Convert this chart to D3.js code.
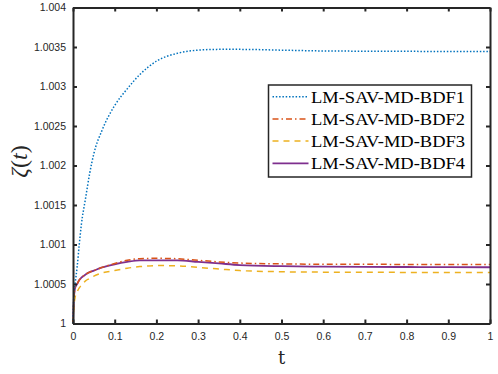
<!DOCTYPE html>
<html>
<head>
<meta charset="utf-8">
<script src="https://cdn.jsdelivr.net/npm/d3@7"></script>
<style>
  body { margin: 0; background: #fff; }
  svg { display: block; }
</style>
</head>
<body>
<div id="chart"></div>
<script>
// sampled time points (shared by all series)
const tValues = [0, 0.002, 0.005, 0.01, 0.015, 0.02, 0.03, 0.04, 0.05, 0.07, 0.1, 0.13, 0.16, 0.2,
  0.25, 0.3, 0.35, 0.4, 0.5, 0.6, 0.7, 0.8, 0.9, 1.0];

const bdf1 = [1.0, 1.00035, 1.0005, 1.00072, 1.001, 1.00125, 1.00158, 1.0019, 1.00215, 1.00245,
  1.00276, 1.00297, 1.00315, 1.00332, 1.00342, 1.00346, 1.00347, 1.00347, 1.00346, 1.00345,
  1.003447, 1.003445, 1.003444, 1.003444];
const bdf2 = [1.0, 1.0003, 1.00045, 1.0005, 1.00055, 1.00058, 1.00062, 1.00065, 1.00067, 1.00071,
  1.00076, 1.0008, 1.00082, 1.000825, 1.00082, 1.0008, 1.00078, 1.000765, 1.000755, 1.00075,
  1.000749, 1.000748, 1.000747, 1.000747];
const bdf3 = [1.0, 1.0002, 1.00033, 1.0004, 1.00045, 1.00048, 1.00054, 1.00057, 1.0006, 1.00064,
  1.00067, 1.0007, 1.00072, 1.000733, 1.00073, 1.00071, 1.00069, 1.00067, 1.000655, 1.00065,
  1.000648, 1.000647, 1.000646, 1.000645];
const bdf4 = [1.0, 1.0003, 1.00045, 1.0005, 1.00055, 1.00058, 1.00062, 1.00065, 1.00067, 1.00071,
  1.00075, 1.00078, 1.0008, 1.0008, 1.0008, 1.00078, 1.00076, 1.00074, 1.000725, 1.00072,
  1.000717, 1.000715, 1.000713, 1.000712];

const seriesNames = ['LM-SAV-MD-BDF1', 'LM-SAV-MD-BDF2', 'LM-SAV-MD-BDF3', 'LM-SAV-MD-BDF4'];
const xTicks = [0, 0.1, 0.2, 0.3, 0.4, 0.5, 0.6, 0.7, 0.8, 0.9, 1];
const yTicks = [1, 1.0005, 1.001, 1.0015, 1.002, 1.0025, 1.003, 1.0035, 1.004];
const yTickLabels = ['1', '1.0005', '1.001', '1.0015', '1.002', '1.0025', '1.003', '1.0035', '1.004'];

const width = 498;
const height = 374;
const margin = { left: 73, right: 8, top: 7.5, bottom: 50.5 };

const styles = [
  { color: '#0072BD', dash: '1.5,1.8', width: 1.5 },
  { color: '#D95319', dash: '6,3,1.5,3', width: 1.5 },
  { color: '#EDB120', dash: '6,5', width: 1.5 },
  { color: '#7E2F8E', dash: null, width: 1.8 }
];

const series = [bdf1, bdf2, bdf3, bdf4].map((vals, i) => ({
  name: seriesNames[i],
  points: tValues.map((t, j) => [t, vals[j]]),
  style: styles[i]
}));

const svg = d3.select('#chart').append('svg')
  .attr('width', width)
  .attr('height', height);

const scaleX = d3.scaleLinear().domain([0, 1]).range([margin.left, width - margin.right]);
const scaleY = d3.scaleLinear().domain([1, 1.004]).range([height - margin.bottom, margin.top]);

const axisColor = '#262626';
const tickFont = '"Liberation Sans", Arial, sans-serif';
const serif = '"Liberation Serif", "DejaVu Serif", serif';

// lines
const line = d3.line()
  .x(d => scaleX(d[0]))
  .y(d => scaleY(d[1]))
  .curve(d3.curveMonotoneX);

svg.append('g')
  .selectAll('path')
  .data(series.slice().reverse())
  .enter()
  .append('path')
  .attr('d', d => line(d.points))
  .attr('fill', 'none')
  .attr('stroke', d => d.style.color)
  .attr('stroke-width', d => d.style.width)
  .attr('stroke-dasharray', d => d.style.dash);

// axes (ticks inside, box on)
const xAxisB = d3.axisBottom(scaleX).tickValues(xTicks).tickSizeInner(-4).tickSizeOuter(0)
  .tickPadding(9).tickFormat(d3.format('~g'));
const xAxisT = d3.axisTop(scaleX).tickValues(xTicks).tickSizeInner(-4).tickSizeOuter(0).tickFormat('');
const yAxisL = d3.axisLeft(scaleY).tickValues(yTicks).tickSizeInner(-4).tickSizeOuter(0)
  .tickPadding(7).tickFormat((d, i) => yTickLabels[i]);
const yAxisR = d3.axisRight(scaleY).tickValues(yTicks).tickSizeInner(-4).tickSizeOuter(0).tickFormat('');

const gB = svg.append('g').attr('transform', `translate(0,${height - margin.bottom})`).call(xAxisB);
const gT = svg.append('g').attr('transform', `translate(0,${margin.top})`).call(xAxisT);
const gL = svg.append('g').attr('transform', `translate(${margin.left},0)`).call(yAxisL);
const gR = svg.append('g').attr('transform', `translate(${width - margin.right},0)`).call(yAxisR);

[gB, gT, gL, gR].forEach(g => {
  g.select('.domain').attr('stroke', axisColor).attr('stroke-width', 2);
  g.selectAll('.tick line').attr('stroke', axisColor).attr('stroke-width', 2);
  g.selectAll('.tick text')
    .attr('fill', axisColor)
    .style('font-family', tickFont)
    .style('font-size', '10.5px');
});

// axis labels
svg.append('text')
  .attr('x', scaleX(0.5))
  .attr('y', 364)
  .attr('text-anchor', 'middle')
  .style('font-family', '"DejaVu Serif", "Liberation Serif", serif')
  .style('font-size', '18px')
  .attr('fill', axisColor)
  .text('t');

const yLabel = svg.append('text')
  .attr('transform', `translate(27,${scaleY(1.00205)}) rotate(-90)`)
  .attr('text-anchor', 'middle')
  .style('font-family', serif)
  .style('font-size', '24px')
  .attr('fill', axisColor);
yLabel.append('tspan').style('font-style', 'italic').text('ζ');
yLabel.append('tspan').text('(');
yLabel.append('tspan').style('font-style', 'italic').text('t');
yLabel.append('tspan').text(')');

// legend
const legend = svg.append('g').attr('transform', 'translate(268.5,85)');
legend.append('rect')
  .attr('width', 203)
  .attr('height', 92)
  .attr('fill', '#fff')
  .attr('stroke', axisColor)
  .attr('stroke-width', 1.5);

const rows = legend.selectAll('g.row')
  .data(series)
  .enter()
  .append('g')
  .attr('transform', (d, i) => `translate(0,${11.7 + i * 22.2})`);

rows.append('line')
  .attr('x1', 4)
  .attr('x2', 40)
  .attr('stroke', d => d.style.color)
  .attr('stroke-width', d => d.style.width)
  .attr('stroke-dasharray', d => d.style.dash);

rows.append('text')
  .attr('x', 42.5)
  .attr('y', 6)
  .attr('textLength', 154)
  .attr('lengthAdjust', 'spacingAndGlyphs')
  .style('font-family', serif)
  .style('font-size', '17px')
  .attr('fill', '#000')
  .text(d => d.name);
</script>
</body>
</html>
